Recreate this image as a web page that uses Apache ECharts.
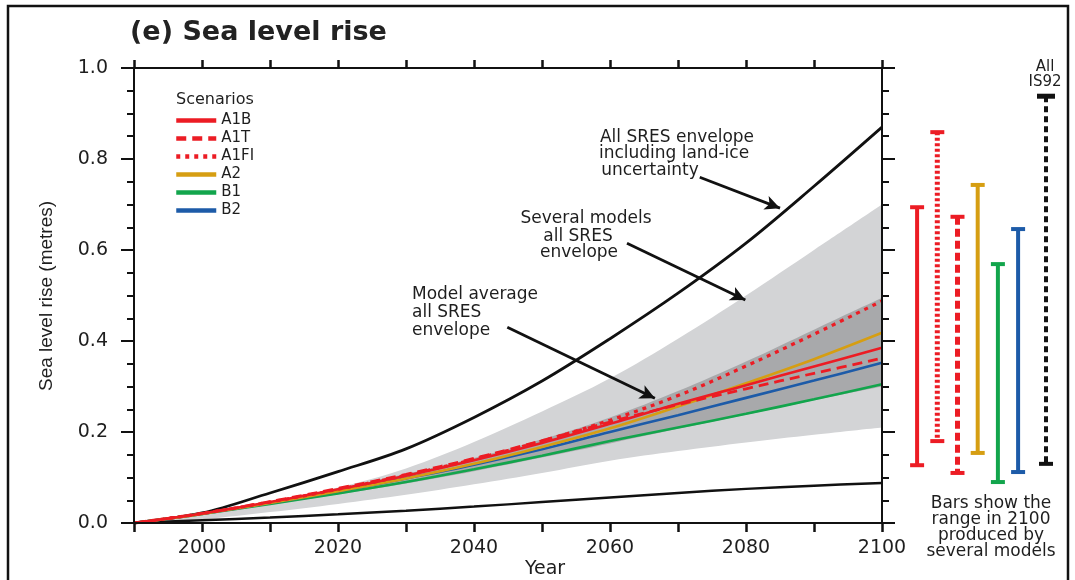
<!DOCTYPE html>
<html>
<head>
<meta charset="utf-8">
<script src="https://cdn.jsdelivr.net/npm/echarts@6/dist/echarts.min.js"></script>
<style>
html,body{margin:0;padding:0;background:#fff;}
#chart{width:1075px;height:580px;}
</style>
</head>
<body>
<div id="chart"></div>
<script>
// ---------------- data ----------------
const years = [1990, 2000, 2010, 2020, 2030, 2040, 2050, 2060, 2070, 2080, 2090, 2100];
// All SRES envelope including land-ice uncertainty (black lines)
const landIceUpper = [0, 0.022, 0.066, 0.113, 0.163, 0.232, 0.312, 0.405, 0.505, 0.615, 0.740, 0.870];
const landIceLower = [0, 0.006, 0.012, 0.019, 0.027, 0.036, 0.046, 0.056, 0.066, 0.075, 0.082, 0.088];
// Several models all SRES envelope (light grey)
const severalUpper = [0, 0.020, 0.046, 0.078, 0.120, 0.178, 0.245, 0.318, 0.405, 0.500, 0.600, 0.700];
const severalLower = [0, 0.008, 0.024, 0.042, 0.062, 0.085, 0.110, 0.137, 0.158, 0.177, 0.194, 0.210];
// Model average all SRES envelope (dark grey)
const averageUpper = [0, 0.022, 0.047, 0.076, 0.108, 0.143, 0.184, 0.232, 0.290, 0.355, 0.425, 0.495];
const averageLower = [0, 0.019, 0.040, 0.063, 0.087, 0.114, 0.144, 0.175, 0.207, 0.238, 0.270, 0.300];
// Scenarios (model average)
const a1b  = [0, 0.021, 0.046, 0.074, 0.104, 0.138, 0.176, 0.218, 0.262, 0.303, 0.344, 0.385];
const a1t  = [0, 0.021, 0.047, 0.076, 0.107, 0.142, 0.181, 0.222, 0.260, 0.295, 0.329, 0.362];
const a1fi = [0, 0.021, 0.046, 0.074, 0.105, 0.140, 0.180, 0.226, 0.280, 0.345, 0.415, 0.488];
const a2   = [0, 0.020, 0.044, 0.070, 0.098, 0.130, 0.167, 0.208, 0.256, 0.307, 0.360, 0.418];
const b1   = [0, 0.020, 0.042, 0.065, 0.090, 0.118, 0.148, 0.180, 0.210, 0.240, 0.272, 0.305];
const b2   = [0, 0.020, 0.044, 0.070, 0.098, 0.128, 0.162, 0.200, 0.237, 0.275, 0.313, 0.352];
// Range bars in 2100 (several models)
const barNames = ['A1B', 'A1FI', 'A1T', 'A2', 'B1', 'B2'];
const barLow   = [0.127, 0.180, 0.110, 0.154, 0.090, 0.112];
const barHigh  = [0.694, 0.859, 0.673, 0.743, 0.569, 0.646];
const is92Names = ['All IS92'];
const is92Low  = [0.130];
const is92High = [0.938];
// Arrow annotations [year, value] start -> tip
const arrowLandIce  = [[2073.2, 0.760], [2085.0, 0.692]];
const arrowSeveral  = [[2062.5, 0.615], [2079.9, 0.490]];
const arrowAverage  = [[2044.9, 0.430], [2066.6, 0.274]];
// ticks
const yTicks = { min: 0, max: 1, interval: 0.2 };
const xTicks = { min: 1990, max: 2100, interval: 10, labelEvery: 20 };

// ---------------- styles ----------------
const RED = '#ec1c24', GOLD = '#d69e12', GREEN = '#12a54c', BLUE = '#1d5ba8';
const LIGHT = '#d3d4d6', DARK = '#a8a9ab';
const FONT = 'DejaVu Sans';
const TXT = '#1e1e1e';
const SMOOTH = 0.35;

function pairs(arr) { return years.map((y, i) => [y, arr[i]]); }

function area(name, arr, color) {
  return {
    name, type: 'line', data: pairs(arr), symbol: 'none', silent: true,
    smooth: SMOOTH,
    lineStyle: { width: 0, opacity: 0 },
    areaStyle: { color, opacity: 1 },
    xAxisIndex: 0, yAxisIndex: 0, z: 1
  };
}
function line(name, arr, color, type, width, extra) {
  return Object.assign({
    name, type: 'line', data: pairs(arr), symbol: 'none', silent: true,
    smooth: SMOOTH,
    lineStyle: { color, width, type, cap: 'butt' },
    itemStyle: { color },
    xAxisIndex: 0, yAxisIndex: 0, z: 3
  }, extra || {});
}

const barStyles = [
  { color: RED, width: 4, dash: null },
  { color: RED, width: 5, dash: [3, 2.5] },
  { color: RED, width: 5, dash: [8, 4] },
  { color: GOLD, width: 4, dash: null },
  { color: GREEN, width: 4, dash: null },
  { color: BLUE, width: 4, dash: null }
];
const is92Styles = [{ color: '#111', width: 4, dash: [6, 4] }];

function rangeRenderer(styles, capTop) {
  return function (params, api) {
    const idx = api.value(0);
    const lo = api.coord([idx, api.value(1)]);
    const hi = api.coord([idx, api.value(2)]);
    const s = styles[params.dataIndex];
    const cap = 7;
    return {
      type: 'group',
      children: [
        { type: 'line', shape: { x1: hi[0], y1: hi[1], x2: lo[0], y2: lo[1] },
          style: { stroke: s.color, lineWidth: s.width, lineDash: s.dash } },
        { type: 'line', shape: { x1: hi[0] - (capTop || cap), y1: hi[1], x2: hi[0] + (capTop || cap), y2: hi[1] },
          style: { stroke: s.color, lineWidth: capTop ? 5 : 4 } },
        { type: 'line', shape: { x1: lo[0] - cap, y1: lo[1], x2: lo[0] + cap, y2: lo[1] },
          style: { stroke: s.color, lineWidth: 4 } }
      ]
    };
  };
}

const arrowLine = (seg) => [
  { coord: seg[0], symbol: 'none' },
  { coord: seg[1], symbol: 'arrow', symbolSize: [11, 15] }
];

const plotGrid = { left: 134, right: 193, top: 68, bottom: 57 };
const hiddenY = (gi) => ({ type: 'value', gridIndex: gi, min: yTicks.min, max: yTicks.max, show: false });

const option = {
  animation: false,
  backgroundColor: '#fff',
  grid: [
    Object.assign({ containLabel: false, outerBoundsMode: 'none' }, plotGrid),
    { left: 907, width: 121.2, top: 68, bottom: 57, containLabel: false, outerBoundsMode: 'none' },
    { left: 1036, width: 20, top: 68, bottom: 57, containLabel: false, outerBoundsMode: 'none' }
  ],
  xAxis: [
    {
      type: 'value', gridIndex: 0, position: 'bottom', z: 10,
      min: xTicks.min, max: xTicks.max, interval: xTicks.interval,
      axisLine: { show: true, onZero: false, lineStyle: { color: '#111', width: 2 } },
      axisTick: { show: true, length: 9, lineStyle: { color: '#111', width: 2.5 } },
      axisLabel: {
        margin: 16, color: TXT, fontFamily: FONT, fontSize: 19,
        formatter: v => (v % xTicks.labelEvery === 0 ? String(v) : '')
      },
      splitLine: { show: false }
    },
    {
      type: 'value', gridIndex: 0, position: 'top', z: 10,
      min: xTicks.min, max: xTicks.max, interval: xTicks.interval,
      axisLine: { show: true, onZero: false, lineStyle: { color: '#111', width: 2 } },
      axisTick: { show: true, length: 8, lineStyle: { color: '#111', width: 2.5 } },
      axisLabel: { show: false }, splitLine: { show: false }
    },
    { type: 'category', gridIndex: 1, data: barNames, show: false },
    { type: 'category', gridIndex: 2, data: is92Names, show: false }
  ],
  yAxis: [
    {
      type: 'value', gridIndex: 0, position: 'left', z: 10,
      min: yTicks.min, max: yTicks.max, interval: yTicks.interval,
      axisLine: { show: true, onZero: false, lineStyle: { color: '#111', width: 2 } },
      axisTick: { show: true, length: 13, lineStyle: { color: '#111', width: 2 } },
      minorTick: { show: true, splitNumber: 4, length: 7, lineStyle: { color: '#111', width: 2 } },
      axisLabel: { margin: 26, color: TXT, fontFamily: FONT, fontSize: 19, formatter: v => v.toFixed(1) },
      splitLine: { show: false }, minorSplitLine: { show: false }
    },
    {
      type: 'value', gridIndex: 0, position: 'right', z: 10,
      min: yTicks.min, max: yTicks.max, interval: yTicks.interval,
      axisLine: { show: true, onZero: false, lineStyle: { color: '#111', width: 2 } },
      axisTick: { show: true, length: 13, lineStyle: { color: '#111', width: 2 } },
      minorTick: { show: true, splitNumber: 4, length: 7, lineStyle: { color: '#111', width: 2 } },
      axisLabel: { show: false }, splitLine: { show: false }, minorSplitLine: { show: false }
    },
    hiddenY(1),
    hiddenY(2)
  ],
  legend: {
    data: ['A1B', 'A1T', 'A1FI', 'A2', 'B1', 'B2'],
    orient: 'vertical', left: 174, top: 113, padding: 0,
    itemWidth: 40, itemHeight: 14, itemGap: 3.0,
    textStyle: { fontFamily: FONT, fontSize: 15, color: TXT, lineHeight: 14 },
    lineStyle: { width: 4.5 },
    itemStyle: { opacity: 0 },
    selectedMode: false
  },
  graphic: [
    { type: 'rect', shape: { x: 8, y: 6, width: 1060, height: 590 }, style: { fill: 'none', stroke: '#111', lineWidth: 2.5 }, silent: true },
    { type: 'text', x: 130, y: 33, style: { text: '(e) Sea level rise', font: 'bold 27px "DejaVu Sans"', fill: '#222', textVerticalAlign: 'middle' } },
    { type: 'text', x: 47, y: 296, rotation: Math.PI / 2, style: { text: 'Sea level rise (metres)', font: '19px "Liberation Sans"', fill: TXT, textAlign: 'center', textVerticalAlign: 'middle' } },
    { type: 'text', x: 545, y: 569, style: { text: 'Year', font: '19px "DejaVu Sans"', fill: TXT, textAlign: 'center', textVerticalAlign: 'middle' } },
    { type: 'text', x: 176, y: 100, style: { text: 'Scenarios', font: '16px "DejaVu Sans"', fill: TXT, textVerticalAlign: 'middle' } },
    { type: 'text', x: 677, y: 138, style: { text: 'All SRES envelope', font: '17px "DejaVu Sans"', fill: TXT, textAlign: 'center', textVerticalAlign: 'middle' } },
    { type: 'text', x: 674, y: 154, style: { text: 'including land-ice', font: '17px "DejaVu Sans"', fill: TXT, textAlign: 'center', textVerticalAlign: 'middle' } },
    { type: 'text', x: 650, y: 171, style: { text: 'uncertainty', font: '17px "DejaVu Sans"', fill: TXT, textAlign: 'center', textVerticalAlign: 'middle' } },
    { type: 'text', x: 586, y: 219, style: { text: 'Several models', font: '17px "DejaVu Sans"', fill: TXT, textAlign: 'center', textVerticalAlign: 'middle' } },
    { type: 'text', x: 578, y: 237, style: { text: 'all SRES', font: '17px "DejaVu Sans"', fill: TXT, textAlign: 'center', textVerticalAlign: 'middle' } },
    { type: 'text', x: 579, y: 253, style: { text: 'envelope', font: '17px "DejaVu Sans"', fill: TXT, textAlign: 'center', textVerticalAlign: 'middle' } },
    { type: 'text', x: 412, y: 295, style: { text: 'Model average', font: '17px "DejaVu Sans"', fill: TXT, textVerticalAlign: 'middle' } },
    { type: 'text', x: 412, y: 313, style: { text: 'all SRES', font: '17px "DejaVu Sans"', fill: TXT, textVerticalAlign: 'middle' } },
    { type: 'text', x: 412, y: 331, style: { text: 'envelope', font: '17px "DejaVu Sans"', fill: TXT, textVerticalAlign: 'middle' } },
    { type: 'text', x: 1045, y: 75, style: { text: 'All\nIS92', font: '15px "DejaVu Sans"', lineHeight: 15, fill: TXT, textAlign: 'center', textVerticalAlign: 'middle' } },
    { type: 'text', x: 991, y: 528, style: { text: 'Bars show the\nrange in 2100\nproduced by\nseveral models', font: '17px "DejaVu Sans"', lineHeight: 16, fill: TXT, textAlign: 'center', textVerticalAlign: 'middle' } }
  ],
  series: [
    area('severalUpper', severalUpper, LIGHT),
    area('averageUpper', averageUpper, DARK),
    area('averageLower', averageLower, LIGHT),
    area('severalLower', severalLower, '#ffffff'),
    line('landIceLower', landIceLower, '#111', 'solid', 2.5),
    line('landIceUpper', landIceUpper, '#111', 'solid', 2.8, {
      markLine: {
        silent: true, animation: false,
        lineStyle: { color: '#111', width: 2.8, type: 'solid' },
        label: { show: false },
        data: [arrowLine(arrowLandIce), arrowLine(arrowSeveral), arrowLine(arrowAverage)]
      }
    }),
    line('B1', b1, GREEN, 'solid', 2.6),
    line('B2', b2, BLUE, 'solid', 2.6),
    line('A2', a2, GOLD, 'solid', 2.6),
    line('A1T', a1t, RED, [10, 6], 2.8),
    line('A1B', a1b, RED, 'solid', 2.6),
    line('A1FI', a1fi, RED, [4, 5], 3.2),
    {
      name: 'bars', type: 'custom', xAxisIndex: 2, yAxisIndex: 2, silent: true,
      encode: { x: 0, y: [1, 2] },
      data: barNames.map((n, i) => [i, barLow[i], barHigh[i]]),
      renderItem: rangeRenderer(barStyles)
    },
    {
      name: 'is92', type: 'custom', xAxisIndex: 3, yAxisIndex: 3, silent: true,
      encode: { x: 0, y: [1, 2] },
      data: is92Names.map((n, i) => [i, is92Low[i], is92High[i]]),
      renderItem: rangeRenderer(is92Styles, 9)
    }
  ]
};

const chart = echarts.init(document.getElementById('chart'), null, { renderer: 'canvas' });
chart.setOption(option);
</script>
</body>
</html>
